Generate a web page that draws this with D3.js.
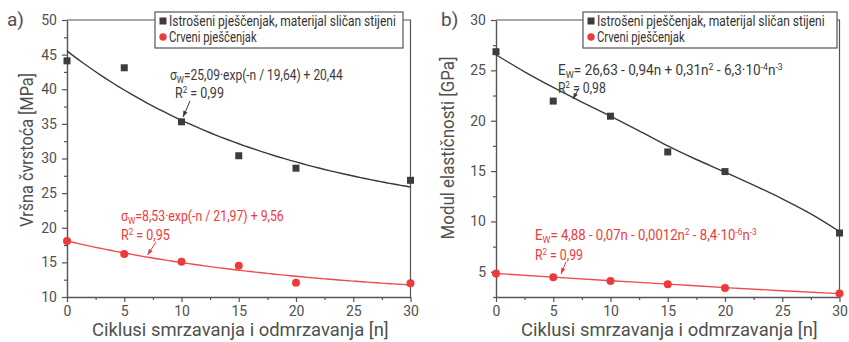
<!DOCTYPE html>
<html>
<head>
<meta charset="utf-8">
<script src="https://cdn.jsdelivr.net/npm/d3@7"></script>
<style>
  html, body { margin: 0; padding: 0; background: #fff; }
  svg { display: block; font-family: Roboto, "Open Sans", sans-serif; }
</style>
</head>
<body>
<svg id="chart" width="849" height="342"></svg>
<script>
// Freeze–thaw cycles at which the samples were tested
const cycles = [0, 5, 10, 15, 20, 30];

// (a) peak strength [MPa]
const strengthWeathered = [44.1, 43.1, 35.3, 30.4, 28.6, 26.85];
const strengthRed = [18.1, 16.2, 15.1, 14.5, 12.07, 12.0];
// exponential fits: A·exp(-n/t) + y0  ->  [A, t, y0]
const strengthFitWeathered = [25.09, 19.64, 20.44];
const strengthFitRed = [8.53, 21.97, 9.56];

// (b) modulus of elasticity [GPa]
const modulusWeathered = [26.85, 21.95, 20.45, 16.9, 14.95, 8.85];
const modulusRed = [4.83, 4.45, 4.1, 3.76, 3.4, 2.84];
// polynomial fit curves, sampled along n
const fitCyclesWeathered = [0, 2.5, 5, 7.5, 10, 12.5, 15, 17.5, 20, 22.5, 25, 27.5, 30];
const modulusFitWeathered = [26.55, 24.85, 23.3, 21.85, 20.45, 19.0, 17.5, 16.15, 14.9, 13.6, 12.25, 10.75, 9.0];
const fitCyclesRed = [0, 5, 10, 15, 20, 25, 30];
const modulusFitRed = [4.84, 4.47, 4.12, 3.78, 3.43, 3.12, 2.84];

const seriesNames = ["Istrošeni pješčenjak, materijal sličan stijeni", "Crveni pješčenjak"];
const xTicks = [0, 5, 10, 15, 20, 25, 30];
const xTitle = "Ciklusi smrzavanja i odmrzavanja [n]";

const DARK = "#3c3c3c", LINE_DARK = "#3a3a3a", RED = "#ee3a3c", LINE_RED = "#f24a4a";
const AXIS = "#555", TEXT = "#505050";

const svg = d3.select("#chart");

// squeeze a text element horizontally so it spans the given width from its left x
function fitWidth(sel, width) {
  const node = sel.node();
  const bb = node.getBBox();
  const sx = width / bb.width;
  const x0 = bb.x;
  sel.attr("transform", `translate(${x0},0) scale(${sx},1) translate(${-x0},0)`);
}

function eqText(g, x, y, color, parts, width) {
  const t = g.append("text").attr("x", x).attr("y", y).attr("fill", color).attr("font-size", 14);
  parts.forEach(p => {
    const ts = t.append("tspan").text(p.t);
    if (p.sub) ts.attr("font-size", 9.5).attr("dy", 3);
    if (p.sup) ts.attr("font-size", 9).attr("dy", -5);
    if (p.back) ts.attr("dy", p.back);
  });
  if (width) fitWidth(t, width);
  return t;
}

function arrow(g, x1, y1, x2, y2, color) {
  g.append("line").attr("x1", x1).attr("y1", y1).attr("x2", x2).attr("y2", y2)
    .attr("stroke", color).attr("stroke-width", 1);
  const a = Math.atan2(y2 - y1, x2 - x1), L = 6, W = 2.2;
  const bx = x2 - L * Math.cos(a), by = y2 - L * Math.sin(a);
  const px = -Math.sin(a) * W, py = Math.cos(a) * W;
  g.append("path").attr("d", `M${x2},${y2}L${bx + px},${by + py}L${bx - px},${by - py}Z`).attr("fill", color);
}

function panel(cfg) {
  const g = svg.append("g");
  const x = d3.scaleLinear().domain([0, 30]).range([cfg.left, cfg.right]);
  const y = d3.scaleLinear().domain(cfg.yDomain).range([297, 20]);

  // frame (top and right)
  g.append("path")
    .attr("d", `M${cfg.left},20H${cfg.right}V297`)
    .attr("fill", "none").attr("stroke", AXIS).attr("stroke-width", 1.2);

  // minor ticks
  const xMinor = d3.range(2.5, 30, 5);
  const yMinor = d3.range(cfg.yDomain[0], cfg.yDomain[1] + 0.01, 2.5).filter(v => !cfg.yTicks.includes(v));
  const gx = g.append("g").attr("transform", "translate(0,297)");
  gx.call(d3.axisBottom(x).tickValues(xMinor).tickSize(3).tickFormat(""));
  gx.call(g2 => g2.select(".domain").remove());
  const gx2 = g.append("g").attr("transform", "translate(0,297)")
    .call(d3.axisBottom(x).tickValues(xTicks).tickSize(5).tickSizeOuter(0).tickPadding(4).tickFormat(d3.format("d")));
  const gy = g.append("g").attr("transform", `translate(${cfg.left},0)`);
  gy.call(d3.axisLeft(y).tickValues(yMinor).tickSize(3).tickFormat(""));
  gy.call(g2 => g2.select(".domain").remove());
  const gy2 = g.append("g").attr("transform", `translate(${cfg.left},0)`)
    .call(d3.axisLeft(y).tickValues(cfg.yTicks).tickSize(5).tickSizeOuter(0).tickPadding(4).tickFormat(d3.format("d")));
  [gx, gx2, gy, gy2].forEach(a => {
    a.selectAll("line").attr("stroke", AXIS).attr("stroke-width", 1.2);
    a.selectAll(".domain").attr("stroke", AXIS).attr("stroke-width", 1.4);
    a.selectAll("text").attr("fill", TEXT).attr("font-size", 14).attr("font-family", "Roboto, sans-serif");
  });
  gy2.selectAll("text").attr("dx", "-1");

  // fit curves
  const line = d3.line().x(d => x(d[0])).y(d => y(d[1])).curve(d3.curveMonotoneX);
  g.append("path").datum(cfg.fitDark).attr("d", line)
    .attr("fill", "none").attr("stroke", LINE_DARK).attr("stroke-width", 1.4);
  g.append("path").datum(cfg.fitRed).attr("d", line)
    .attr("fill", "none").attr("stroke", LINE_RED).attr("stroke-width", 1.4);

  // data markers
  g.append("g").selectAll("rect").data(cycles).join("rect")
    .attr("x", (d) => x(d) - 3.5).attr("y", (d, i) => y(cfg.dark[i]) - 3.5)
    .attr("width", 7).attr("height", 7).attr("fill", DARK);
  g.append("g").selectAll("circle").data(cycles).join("circle")
    .attr("cx", d => x(d)).attr("cy", (d, i) => y(cfg.red[i])).attr("r", 4).attr("fill", RED);

  // legend
  const lg = g.append("g");
  lg.append("rect").attr("x", cfg.legend[0]).attr("y", 12).attr("width", cfg.legend[1]).attr("height", 36)
    .attr("fill", "#fff").attr("stroke", AXIS).attr("stroke-width", 1.2);
  const lx = cfg.legend[0] + 8;
  lg.append("rect").attr("x", lx - 3.5).attr("y", 21 - 3.5).attr("width", 7).attr("height", 7).attr("fill", DARK);
  lg.append("circle").attr("cx", lx).attr("cy", 37).attr("r", 3.7).attr("fill", RED);
  const t1 = lg.append("text").attr("x", lx + 6).attr("y", 26).attr("fill", "#333").attr("font-size", 15).text(seriesNames[0]);
  fitWidth(t1, cfg.legendText[0]);
  const t2 = lg.append("text").attr("x", lx + 6).attr("y", 42).attr("fill", "#333").attr("font-size", 15).text(seriesNames[1]);
  fitWidth(t2, cfg.legendText[1]);

  // axis titles
  const xt = g.append("text").attr("x", cfg.xTitleX).attr("y", 336).attr("fill", TEXT).attr("font-size", 19).text(xTitle);
  fitWidth(xt, 297);
  g.append("text")
    .attr("transform", `translate(${cfg.yTitle[0]},${cfg.yTitle[1]}) rotate(-90)`)
    .attr("text-anchor", "middle").attr("fill", TEXT).attr("font-size", 19)
    .attr("textLength", cfg.yTitle[2]).attr("lengthAdjust", "spacingAndGlyphs")
    .text(cfg.yLabel);
  // panel letter
  g.append("text").attr("x", cfg.letter[0]).attr("y", 26).attr("fill", TEXT).attr("font-size", 19).text(cfg.letter[1]);

  return { g, x, y };
}

// (a) peak strength
const expCurve = (p) => d3.range(0, 30.01, 0.5).map(n => [n, p[0] * Math.exp(-n / p[1]) + p[2]]);
const pa = panel({
  left: 67, right: 410.5, yDomain: [10, 50], yTicks: [10, 15, 20, 25, 30, 35, 40, 45, 50],
  dark: strengthWeathered, red: strengthRed,
  fitDark: expCurve(strengthFitWeathered), fitRed: expCurve(strengthFitRed),
  legend: [155, 248], legendText: [227, 88],
  xTitleX: 92, yTitle: [33, 150, 154], yLabel: "Vršna čvrstoća [MPa]", letter: [7, "a)"]
});
eqText(pa.g, 170, 80, LINE_DARK, [{t: "σ"}, {t: "W", sub: true}, {t: "=25,09·exp(-n / 19,64) + 20,44", back: -3}], 173);
eqText(pa.g, 175, 98, LINE_DARK, [{t: "R"}, {t: "2", sup: true}, {t: " = 0,99", back: 5}], 49);
arrow(pa.g, 190, 101, 183, 117, LINE_DARK);
eqText(pa.g, 121, 221, RED, [{t: "σ"}, {t: "W", sub: true}, {t: "=8,53·exp(-n / 21,97) + 9,56", back: -3}], 163);
eqText(pa.g, 121, 240, RED, [{t: "R"}, {t: "2", sup: true}, {t: " = 0,95", back: 5}], 49);
arrow(pa.g, 156, 242, 147.5, 255, RED);

// (b) modulus of elasticity
const sampled = (ns, vs) => ns.map((n, i) => [n, vs[i]]);
const pb = panel({
  left: 496, right: 839.5, yDomain: [2.5, 30], yTicks: [5, 10, 15, 20, 25, 30],
  dark: modulusWeathered, red: modulusRed,
  fitDark: sampled(fitCyclesWeathered, modulusFitWeathered), fitRed: sampled(fitCyclesRed, modulusFitRed),
  legend: [583, 254], legendText: [228, 88],
  xTitleX: 521, yTitle: [454, 148, 183], yLabel: "Modul elastičnosti [GPa]", letter: [441, "b)"]
});
eqText(pb.g, 558, 75, LINE_DARK, [{t: "E"}, {t: "W", sub: true}, {t: "= 26,63 - 0,94n + 0,31n", back: -3}, {t: "2", sup: true},
  {t: " - 6,3·10", back: 5}, {t: "-4", sup: true}, {t: "n", back: 5}, {t: "-3", sup: true}], 225);
eqText(pb.g, 558, 93, LINE_DARK, [{t: "R"}, {t: "2", sup: true}, {t: " = 0,98", back: 5}], 48);
arrow(pb.g, 579, 88, 573, 99, LINE_DARK);
eqText(pb.g, 535, 240, RED, [{t: "E"}, {t: "W", sub: true}, {t: "= 4,88 - 0,07n - 0,0012n", back: -3}, {t: "2", sup: true},
  {t: " - 8,4·10", back: 5}, {t: "-6", sup: true}, {t: "n", back: 5}, {t: "-3", sup: true}], 222);
eqText(pb.g, 535, 260, RED, [{t: "R"}, {t: "2", sup: true}, {t: " = 0,99", back: 5}], 48);
arrow(pb.g, 566, 262, 561, 274, RED);
</script>
</body>
</html>
